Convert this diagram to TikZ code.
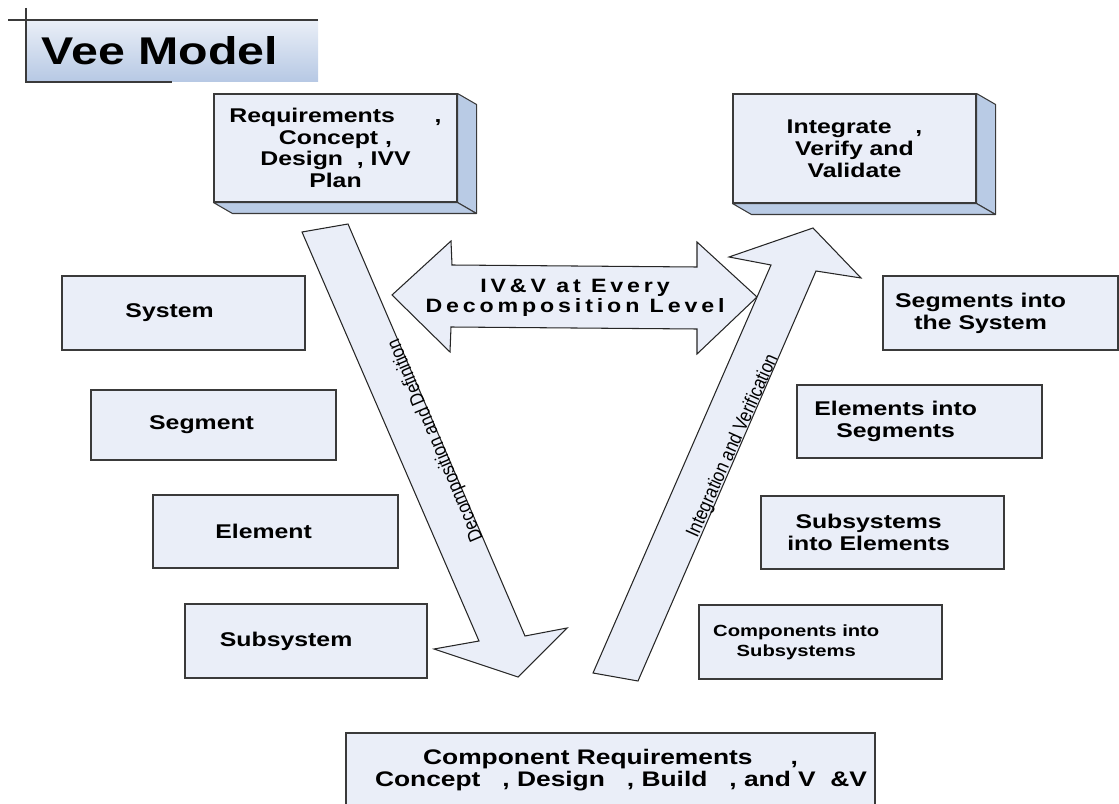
\documentclass[tikz,border=0pt]{standalone}
\usepackage{fontspec}
\setmainfont{Liberation Sans}
\newfontfamily\veefont{Liberation Sans}[FakeStretch=1.25]
\newfontfamily\ivvfont{Liberation Sans}[FakeStretch=1.2,LetterSpace=20]
\newfontfamily\condfont{Liberation Sans}[FakeStretch=0.85]
\usetikzlibrary{positioning}
\definecolor{boxfill}{HTML}{EAEEF8}
\definecolor{sidefill}{HTML}{B9CBE5}
\definecolor{titletop}{HTML}{EAEFF7}
\definecolor{titlebot}{HTML}{B6C8E4}
\definecolor{edge}{HTML}{3A3A3A}

\begin{document}
\begin{tikzpicture}[x=0.02cm, y=-0.02cm,
      lvl/.style 2 args={draw=edge, fill=boxfill, line width=0.6pt, minimum width=#1*0.02cm,
        minimum height=#2*0.02cm, inner sep=0pt, align=center,
        font=\veefont\bfseries\fontsize{11.3}{12.4}\selectfont},
      side/.style={draw=edge, fill=sidefill, line width=0.6pt, line join=round},
      blockarrow/.style={draw=black!85, fill=boxfill, line width=0.6pt},
      along/.style={font=\condfont\fontsize{11.2}{12}\selectfont, inner sep=0pt}]
      \clip (0,0) rectangle (1119,804);
      \shade[top color=titletop, bottom color=titlebot] (26,20) rectangle (318,82);
      \draw[edge, line width=0.7pt] (8,20) -- (318,20) (26,8) -- (26,82) -- (172,82);
      \node (title) at (160,51) {\veefont\bfseries\fontsize{22}{26}\selectfont Vee Model};

      \node[lvl={243}{108}] (req) at (335.5,148) {Requirements\hspace{2em},\\Concept\ ,\\Design\ \ , IVV\\Plan};
      \path[side] (req.north east) -- ++(19,11) -- ([shift={(19,11)}]req.south east) -- (req.south east) -- cycle;
      \path[side] (req.south west) -- ++(19,11) -- ([shift={(19,11)}]req.south east) -- (req.south east) -- cycle;
      \node[lvl={243}{109}] (intg) at (854.5,148.5) {Integrate\hspace{1.2em},\\Verify and\\Validate};
      \path[side] (intg.north east) -- ++(19,11) -- ([shift={(19,11)}]intg.south east) -- (intg.south east) -- cycle;
      \path[side] (intg.south west) -- ++(19,11) -- ([shift={(19,11)}]intg.south east) -- (intg.south east) -- cycle;

      \node[lvl={243}{74}] (sys) at (183.5,313) {System\hspace*{1.4em}};
      \node[lvl={245}{70}] (seg) at (213.5,425) {Segment\hspace*{1.2em}};
      \node[lvl={245}{73}] (elm) at (275.5,531.5) {Element\hspace*{1.2em}};
      \node[lvl={242}{74}] (sub) at (306,641) {Subsystem\hspace*{2em}};
      \node[lvl={235}{74}] (segsys) at (1000.5,313) {Segments into\hspace*{2em}\\the System\hspace*{2em}};
      \node[lvl={245}{73}] (elseg) at (919.5,421.5) {Elements into\hspace*{2.4em}\\Segments\hspace*{2.4em}};
      \node[lvl={243}{73}] (subel) at (882.5,532.5) {Subsystems\hspace*{1.4em}\\into Elements\hspace*{1.4em}};
      \node[lvl={243}{74}, font=\veefont\bfseries\fontsize{9.2}{11.5}\selectfont] (compsub) at (820.5,642) {Components into\hspace*{3em}\\Subsystems\hspace*{3em}};
      \node[lvl={529}{74}, font=\veefont\bfseries\fontsize{12}{12.4}\selectfont] (comp) at (610.5,770) {Component Requirements\hspace{1.8em},\\\hspace*{1em}Concept\ \ \ , Design\ \ \ , Build\ \ \ , and V\ \ \&V};

      \draw[blockarrow] (302,232) -- (348,224) -- (525,636) -- (567,628) -- (518,677) -- (434,649) -- (479,641) -- cycle;
      \draw[blockarrow] (392,295) -- (451,241) -- (452,265) -- (697,267) -- (697,242) -- (757,297) -- (697,354) -- (697,329) -- (451,327) -- (450,352) -- cycle;
      \draw[blockarrow] (593,673) -- (771,265) -- (729,257) -- (813,228) -- (861,278) -- (816,271) -- (638,681) -- cycle;

      \node[along, rotate=113] (decomp) at (436,440) {Decomposition and Definition};
      \node[along, rotate=66] (integ) at (733,446) {Integration and Verification};
      \node[font=\ivvfont\bfseries\fontsize{11}{11.3}\selectfont, align=center] (ivv) at (575,298) {IV\&V at Every\\Decomposition Level};
\end{tikzpicture}
\end{document}
